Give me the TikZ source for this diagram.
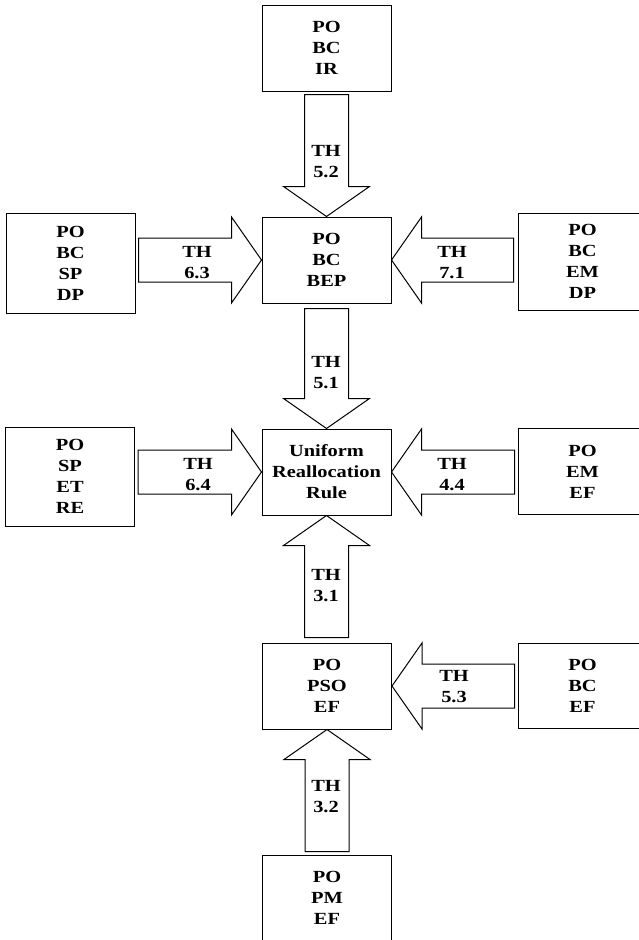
\documentclass[tikz,border=0pt]{standalone}
\usepackage{fontspec}
\setmainfont{Liberation Serif}[FakeStretch=1.2]
\usetikzlibrary{calc}
\newcommand\lblfont{\fontsize{17}{21}\selectfont\bfseries}
\tikzset{
  box/.style={draw, line width=1pt, minimum width=129pt, minimum height=86pt,
              inner sep=0pt, align=center, font=\lblfont},
  barrow/.style={draw, line width=1pt, line join=miter, fill=white},
  lbl/.style={align=center, font=\lblfont, inner sep=0pt}
}
% block arrow pointing down from #1 to #2, gap #3
\newcommand\arrdown[3]{\draw[barrow]
  ($(#1.south -| #2.north)+(-22,#3)$) -- ($(#1.south -| #2.north)+(22,#3)$) --
  ($(#2.north)+(22,-30)$) -- ($(#2.north)+(43,-30)$) -- (#2.north) --
  ($(#2.north)+(-43,-30)$) -- ($(#2.north)+(-22,-30)$) -- cycle;}
% block arrow pointing up from #1 to #2
\newcommand\arrup[3]{\draw[barrow]
  ($(#1.north -| #2.south)+(-22,-#3)$) -- ($(#1.north -| #2.south)+(22,-#3)$) --
  ($(#2.south)+(22,30)$) -- ($(#2.south)+(43,30)$) -- (#2.south) --
  ($(#2.south)+(-43,30)$) -- ($(#2.south)+(-22,30)$) -- cycle;}
% block arrow pointing right from #1 to #2
\newcommand\arrright[3]{\draw[barrow]
  ($(#1.east |- #2.west)+(#3,-22)$) -- ($(#2.west)+(-30,-22)$) --
  ($(#2.west)+(-30,-43)$) -- (#2.west) -- ($(#2.west)+(-30,43)$) --
  ($(#2.west)+(-30,22)$) -- ($(#1.east |- #2.west)+(#3,22)$) -- cycle;}
% block arrow pointing left from #1 to #2
\newcommand\arrleft[3]{\draw[barrow]
  ($(#1.west |- #2.east)+(-#3,-22)$) -- ($(#2.east)+(30,-22)$) --
  ($(#2.east)+(30,-43)$) -- (#2.east) -- ($(#2.east)+(30,43)$) --
  ($(#2.east)+(30,22)$) -- ($(#1.west |- #2.east)+(-#3,22)$) -- cycle;}
\begin{document}
\begin{tikzpicture}[x=1pt,y=-1pt]
\clip (0,0) rectangle (639,940);
\fill[white] (0,0) rectangle (639,940);
% central column
\node[box] (ir)  at (326.5,48)  {PO\\BC\\IR};
\node[box] (bep) at (326.5,260) {PO\\BC\\BEP};
\node[box] (uni) at (326.5,472) {Uniform\\Reallocation\\Rule};
\node[box] (pso) at (327,686)   {PO\\PSO\\EF};
\node[box] (pm)  at (327,898)   {PO\\PM\\EF};
% left column
\node[box, minimum height=100pt] (sp) at (70.5,263)  {PO\\BC\\SP\\DP};
\node[box, minimum height=99pt]  (re) at (70,476.5)  {PO\\SP\\ET\\RE};
% right column
\node[box, minimum height=97pt] (emdp) at (582.5,261.5) {PO\\BC\\EM\\DP};
\node[box]                      (emef) at (582.5,471.5) {PO\\EM\\EF};
\node[box, minimum height=85pt] (bcef) at (582.5,685.5) {PO\\BC\\EF};
% arrows
\arrdown{ir}{bep}{3}
\arrdown{bep}{uni}{5}
\arrup{pso}{uni}{5}
\arrup{pm}{pso}{3}
\arrright{sp}{bep}{3}
\arrleft{emdp}{bep}{4}
\arrright{re}{uni}{3}
\arrleft{emef}{uni}{3}
\arrleft{bcef}{pso}{3}
% labels
\node[lbl] (l52) at (326,162) {TH\\5.2};
\node[lbl] (l51) at (326,373) {TH\\5.1};
\node[lbl] (l31) at (326,586) {TH\\3.1};
\node[lbl] (l32) at (326,797) {TH\\3.2};
\node[lbl] (l63) at (197,263) {TH\\6.3};
\node[lbl] (l71) at (452,263) {TH\\7.1};
\node[lbl] (l64) at (198,475) {TH\\6.4};
\node[lbl] (l44) at (452,475) {TH\\4.4};
\node[lbl] (l53) at (454,687) {TH\\5.3};
\end{tikzpicture}
\end{document}
